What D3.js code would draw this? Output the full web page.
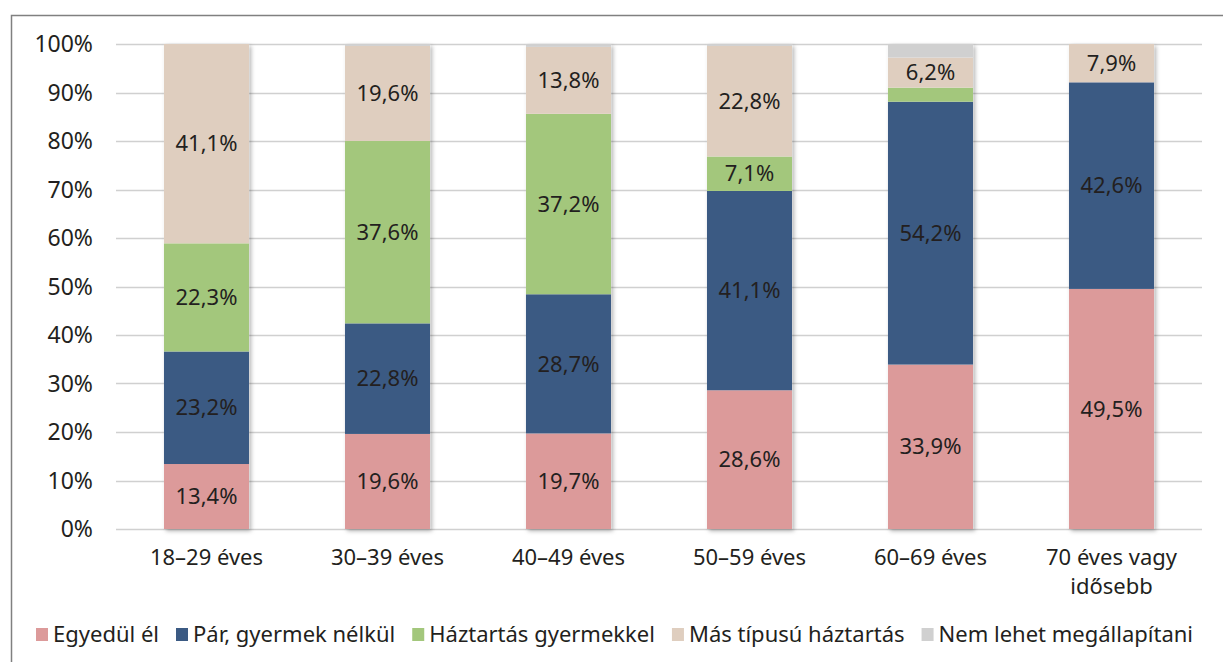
<!DOCTYPE html>
<html><head><meta charset="utf-8">
<script src="https://cdn.jsdelivr.net/npm/d3@7"></script>
<style>body{margin:0;background:#fff}svg{display:block}text{font-family:"Noto Sans",sans-serif;fill:#231f20}</style>
</head><body>
<script>
const categories = [["18–29 éves"],["30–39 éves"],["40–49 éves"],["50–59 éves"],["60–69 éves"],["70 éves vagy","idősebb"]];
const seriesNames = ["Egyedül él","Pár, gyermek nélkül","Háztartás gyermekkel","Más típusú háztartás","Nem lehet megállapítani"];
const seriesColors = ["#dc9a9a","#3b5a83","#a3c77c","#dfcebf","#d0d0d0"];
const egyedul = [13.4,19.6,19.7,28.6,33.9,49.5];
const par = [23.2,22.8,28.7,41.1,54.2,42.6];
const gyermekkel = [22.3,37.6,37.2,7.1,2.9,0];
const mas = [41.1,19.6,13.8,22.8,6.2,7.9];
const nemLehet = [0,0.4,0.6,0.4,2.8,0];
const showLabel = [[1,1,1,1,1,1],[1,1,1,1,1,1],[1,1,1,1,0,0],[1,1,1,1,1,1],[0,0,0,0,0,0]];
const yTicks = [0,10,20,30,40,50,60,70,80,90,100];

const W=1223,H=662;
const svg=d3.select("body").append("svg").attr("width",W).attr("height",H);
const defs=svg.append("defs");
const f=defs.append("filter").attr("id","sh").attr("x","-10%").attr("y","-10%").attr("width","130%").attr("height","130%");
f.append("feDropShadow").attr("dx",2).attr("dy",2).attr("stdDeviation",2).attr("flood-color","#000").attr("flood-opacity",0.3);

svg.append("rect").attr("x",11.5).attr("y",15.5).attr("width",1240).attr("height",700).attr("fill","none").attr("stroke","#808080").attr("stroke-width",1.5);

const x=d3.scaleBand().domain(d3.range(categories.length)).range([116,1202]).paddingInner(0.53).paddingOuter(0.265);
const y=d3.scaleLinear().domain([0,100]).range([529,44]);

const grid=svg.append("g");
grid.selectAll("line").data(yTicks).join("line").attr("x1",116).attr("x2",1202)
 .attr("y1",d=>Math.round(y(d))+0.5).attr("y2",d=>Math.round(y(d))+0.5).attr("stroke","#d0d0d0").attr("stroke-width",1.5);
svg.append("g").selectAll("text").data(yTicks).join("text").attr("x",93).attr("y",d=>y(d)).attr("dy","0.35em")
 .attr("text-anchor","end").attr("font-size",23).text(d=>d+"%");

const vals=[egyedul,par,gyermekkel,mas,nemLehet];
const rows=categories.map((c,i)=>{const o={i};seriesNames.forEach((s,k)=>o[s]=vals[k][i]);return o;});
const stack=d3.stack().keys(seriesNames)(rows);

const barsG=svg.append("g");
barsG.selectAll("rect.sh").data(rows).join("rect").attr("class","sh")
 .attr("x",d=>x(d.i)).attr("width",x.bandwidth())
 .attr("y",d=>y(d3.sum(seriesNames,s=>d[s]))).attr("height",d=>y(0)-y(d3.sum(seriesNames,s=>d[s])))
 .attr("fill","#fff").attr("filter","url(#sh)");
stack.forEach((layer,k)=>{
 barsG.append("g").selectAll("rect").data(layer).join("rect")
  .attr("x",(d,i)=>x(i)).attr("width",x.bandwidth())
  .attr("y",d=>y(d[1])).attr("height",d=>Math.max(0,y(d[0])-y(d[1])))
  .attr("fill",seriesColors[k]);
});
const lblG=svg.append("g");
stack.forEach((layer,k)=>{
 layer.forEach((d,i)=>{
  if(!showLabel[k][i]) return;
  const v=vals[k][i];
  lblG.append("text").attr("x",x(i)+x.bandwidth()/2).attr("y",y((d[0]+d[1])/2)).attr("dy","0.35em")
   .attr("text-anchor","middle").attr("font-size",22).text(v.toFixed(1).replace(".",",")+"%");
 });
});

const xl=svg.append("g");
categories.forEach((c,i)=>{
 c.forEach((line,j)=>xl.append("text").attr("text-anchor","middle").attr("font-size",22)
   .attr("x",x(i)+x.bandwidth()/2).attr("y",565+j*29).text(line));
});

const lg=svg.append("g");
let lx=36;
seriesNames.forEach((s,k)=>{
 lg.append("rect").attr("x",lx).attr("y",628).attr("width",12).attr("height",13).attr("fill",seriesColors[k]);
 const t=lg.append("text").attr("x",lx+17).attr("y",634).attr("dy","0.35em").attr("font-size",22).text(s);
 lx+=17+t.node().getComputedTextLength()+17;
});
</script>
</body></html>
